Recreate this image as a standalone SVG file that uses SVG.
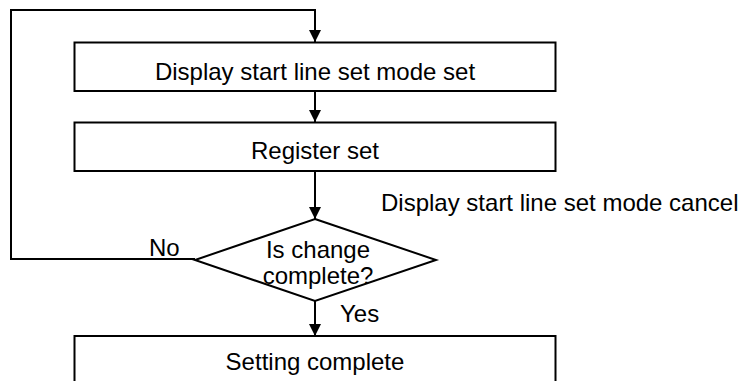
<svg xmlns="http://www.w3.org/2000/svg" width="741" height="381" viewBox="0 0 741 381">
<style>
.box{fill:#fff;stroke:#000;stroke-width:2}
.ln{fill:none;stroke:#000;stroke-width:2}
text{font-family:"Liberation Sans",Arial,sans-serif;font-size:24px;fill:#000}
.c{text-anchor:middle}
</style>
<defs>
<marker id="ah" viewBox="0 0 12 12" refX="12" refY="6" markerWidth="12" markerHeight="12" markerUnits="userSpaceOnUse" orient="auto">
<path d="M0,0 L12,6 L0,12 Z" fill="#000"/>
</marker>
</defs>
<g id="connectors">
<path class="ln" d="M195,259 H11 V10 H315 V42" marker-end="url(#ah)"/>
<path class="ln" d="M315,91 V122" marker-end="url(#ah)"/>
<path class="ln" d="M315,171 V219" marker-end="url(#ah)"/>
<path class="ln" d="M315,301 V336" marker-end="url(#ah)"/>
</g>
<g id="box1">
<rect class="box" x="74.5" y="42.5" width="481" height="48.5"/>
<text class="c" x="315" y="80">Display start line set mode set</text>
</g>
<g id="box2">
<rect class="box" x="74.5" y="122.5" width="481" height="48.5"/>
<text class="c" x="315" y="159">Register set</text>
</g>
<g id="label-cancel">
<text x="381" y="211">Display start line set mode cancel</text>
</g>
<g id="decision">
<polygon class="box" points="315,219 436,260 315,301 195,260"/>
<text class="c" x="318" y="258">Is change</text>
<text class="c" x="318" y="284">complete?</text>
</g>
<g id="label-no"><text x="149" y="256">No</text></g>
<g id="label-yes"><text x="340" y="322">Yes</text></g>
<g id="box3">
<rect class="box" x="74.5" y="336" width="481" height="60"/>
<text class="c" x="315" y="370">Setting complete</text>
</g>
</svg>
